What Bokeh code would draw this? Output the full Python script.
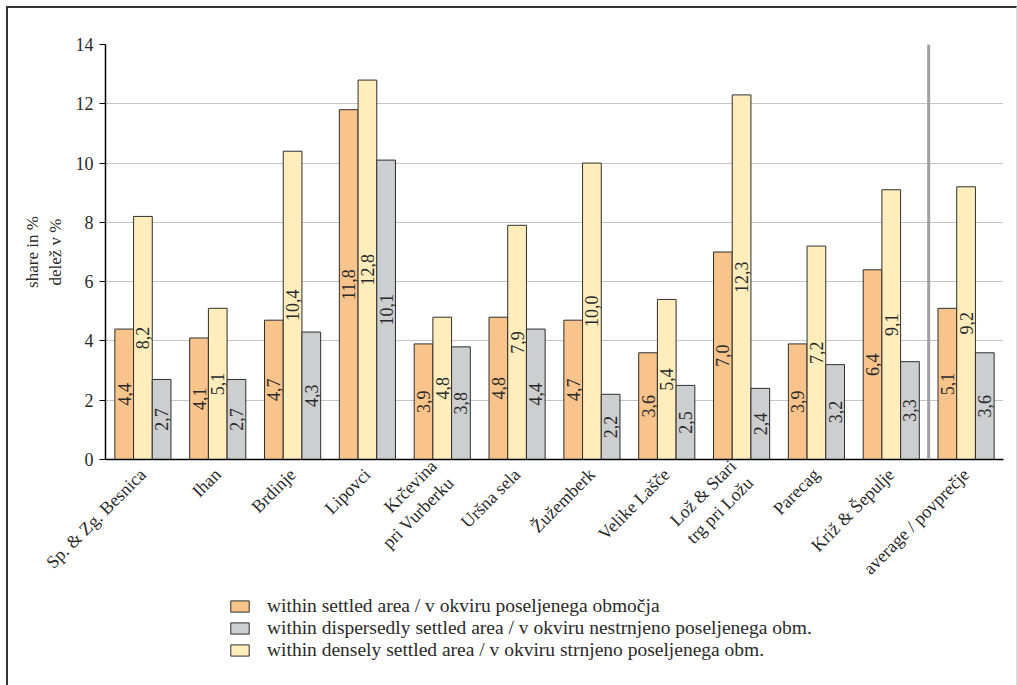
import math
from bokeh.plotting import figure
from bokeh.layouts import column
from bokeh.models import ColumnDataSource, Legend, LegendItem, Span, FixedTicker
from bokeh.transform import dodge
from bokeh.core.properties import value
from bokeh.embed import file_html
from bokeh.resources import INLINE

categories = ["Sp. & Zg. Besnica", "Ihan", "Brdinje", "Lipovci", "Krčevina\npri Vurberku",
              "Uršna sela", "Žužemberk", "Velike Lašče", "Lož & Stari\ntrg pri Ložu",
              "Parecag", "Križ & Šepulje", "average / povprečje"]
settled = [4.4, 4.1, 4.7, 11.8, 3.9, 4.8, 4.7, 3.6, 7.0, 3.9, 6.4, 5.1]
dense = [8.2, 5.1, 10.4, 12.8, 4.8, 7.9, 10.0, 5.4, 12.3, 7.2, 9.1, 9.2]
dispersed = [2.7, 2.7, 4.3, 10.1, 3.8, 4.4, 2.2, 2.5, 2.4, 3.2, 3.3, 3.6]
y_ticks = [0, 2, 4, 6, 8, 10, 12, 14]

names = {
    "settled": "within settled area / v okviru poseljenega območja",
    "dispersed": "within dispersedly settled area / v okviru nestrnjeno poseljenega obm.",
    "dense": "within densely settled area / v okviru strnjeno poseljenega obm.",
}
colors = {"settled": "#F9C38C", "dense": "#FFEDBC", "dispersed": "#CDCED0"}
offsets = {"settled": -0.25, "dense": 0.0, "dispersed": 0.25}

FONT = "Liberation Serif"
TXT = "#2a2a2a"
EDGE = "#2e2e2e"

def lab(v):
    return f"{v:.1f}".replace(".", ",")

data = {"cat": categories}
for key, vals in (("settled", settled), ("dense", dense), ("dispersed", dispersed)):
    data[key] = vals
    data[key + "_half"] = [v / 2 for v in vals]
    data[key + "_lab"] = [lab(v) for v in vals]
src = ColumnDataSource(data)

p = figure(x_range=categories, y_range=(0, 14), width=1008, height=580,
           output_backend="svg", toolbar_location=None,
           min_border_left=97, min_border_right=13, min_border_top=36, min_border_bottom=127)
p.outline_line_color = None

for key in ("settled", "dense", "dispersed"):
    p.vbar(x=dodge("cat", offsets[key], range=p.x_range), top=key, width=0.25,
           source=src, fill_color=colors[key], line_color=EDGE, line_width=1)
    p.text(x=dodge("cat", offsets[key], range=p.x_range), y=key + "_half", text=key + "_lab",
           source=src, angle=math.pi / 2, text_align="center", text_baseline="middle",
           text_font=value(FONT), text_font_size="18px", text_color=TXT)

sep = Span(location=len(categories) - 1, dimension="height", line_color="#a0a0a0", line_width=3)
p.add_layout(sep)

# axes
p.yaxis.ticker = FixedTicker(ticks=y_ticks)
p.yaxis.axis_line_color = "black"
p.yaxis.axis_line_width = 1.5
p.yaxis.major_tick_line_color = "black"
p.yaxis.major_tick_out = 6
p.yaxis.major_tick_in = 0
p.yaxis.minor_tick_line_color = None
p.yaxis.major_label_text_font = FONT
p.yaxis.major_label_text_font_size = "18px"
p.yaxis.major_label_text_color = TXT
p.yaxis.major_label_standoff = 6
p.yaxis.axis_label = "share in %\ndelež v %"
p.yaxis.axis_label_text_font = FONT
p.yaxis.axis_label_text_font_size = "17px"
p.yaxis.axis_label_text_font_style = "normal"
p.yaxis.axis_label_text_color = TXT
p.yaxis.axis_label_standoff = 8

p.xaxis.axis_line_color = "black"
p.xaxis.axis_line_width = 1.5
p.xaxis.major_tick_line_color = None
p.xaxis.minor_tick_line_color = None
p.xaxis.major_label_orientation = math.pi / 4
p.xaxis.major_label_text_font = FONT
p.xaxis.major_label_text_font_size = "18px"
p.xaxis.major_label_text_color = TXT
p.xaxis.major_label_standoff = 6

p.xgrid.grid_line_color = None
p.ygrid.grid_line_color = "#8a8a8a"
p.ygrid.grid_line_dash = "1 1"
p.ygrid.grid_line_width = 1

# legend strip under the chart; proxy glyphs sit outside the strip's visible range
lg = figure(width=1008, height=97, x_range=(0, 1), y_range=(0, 1),
            output_backend="svg", toolbar_location=None,
            min_border_left=0, min_border_right=0, min_border_top=0, min_border_bottom=0)
lg.outline_line_color = None
lg.axis.visible = False
lg.grid.visible = False
items = []
for key in ("settled", "dispersed", "dense"):
    r = lg.vbar(x=[-10], top=[-10], bottom=[-11], width=0.1,
                fill_color=colors[key], line_color=EDGE, line_width=1)
    items.append(LegendItem(label=names[key], renderers=[r]))
legend = Legend(items=items, location=(123, 24))
legend.label_text_font = FONT
legend.label_text_font_size = "19.5px"
legend.label_text_color = TXT
legend.glyph_width = 23
legend.glyph_height = 14
legend.label_height = 20
legend.spacing = 0
legend.padding = 0
legend.margin = 0
legend.label_standoff = 16
legend.border_line_color = None
legend.background_fill_alpha = 0
lg.add_layout(legend, "center")

layout = column(p, lg, spacing=0)
layout.styles = {"margin-left": "6px", "margin-top": "6px",
                 "border-left": "2px solid #333", "border-top": "2px solid #333",
                 "border-right": "1px solid #ddd"}

open("out.html", "w").write(file_html(layout, INLINE))
